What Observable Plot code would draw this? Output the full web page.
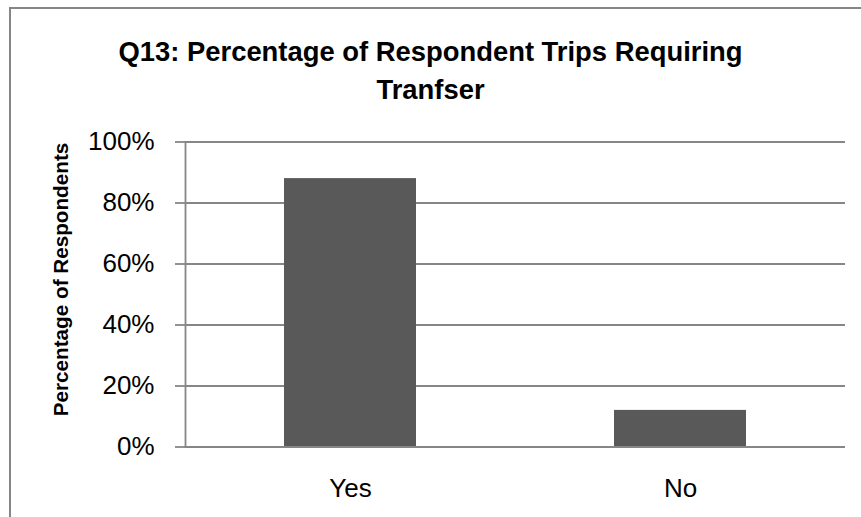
<!DOCTYPE html>
<html>
<head>
<meta charset="utf-8">
<script src="https://cdn.jsdelivr.net/npm/d3@7"></script>
<script src="https://cdn.jsdelivr.net/npm/@observablehq/plot@0.6"></script>
<style>
  html, body { margin: 0; padding: 0; background: #fff; }
  #wrap { position: relative; width: 861px; height: 517px; overflow: hidden; font-family: "Liberation Sans", Arial, sans-serif; }
  #border { position: absolute; left: 9px; top: 7px; width: 900px; height: 600px; border-left: 2px solid #868686; border-top: 2px solid #868686; box-sizing: border-box; }
  #title { position: absolute; left: 0; width: 861px; top: 33px; text-align: center; font-weight: bold; font-size: 27.4px; line-height: 38px; color: #000; }
  #chart { position: absolute; left: 0; top: 0; }
</style>
</head>
<body>
<div id="wrap">
  <div id="border"></div>
  <div id="chart"></div>
  <div id="title">Q13: Percentage of Respondent Trips Requiring<br>Tranfser</div>
</div>
<script>
const categories = ["Yes", "No"];
const values = [0.88, 0.12];
const yTicks = [0, 0.2, 0.4, 0.6, 0.8, 1.0];
const yTitle = "Percentage of Respondents";

const data = categories.map((c, i) => ({category: c, value: values[i]}));
const pct = d => Math.round(d * 100) + "%";

const chart = Plot.plot({
  width: 861,
  height: 517,
  marginTop: 141.5,
  marginBottom: 70.5,
  marginLeft: 185,
  marginRight: 16,
  style: {fontFamily: "'Liberation Sans', Arial, sans-serif", fontSize: "26px", color: "#000", background: "transparent"},
  x: {domain: categories, padding: 0, label: null},
  y: {domain: [0, 1], label: null},
  marks: [
    Plot.gridY(yTicks, {stroke: "#868686", strokeOpacity: 1, strokeWidth: 1.8}),
    Plot.barY(data, {x: "category", y: "value", fill: "#595959", insetLeft: 99, insetRight: 99}),
    Plot.ruleY([0], {stroke: "#868686", strokeWidth: 1.8}),
    Plot.frame({anchor: "left", stroke: "#868686", strokeWidth: 1.8}),
    Plot.axisY(yTicks, {tickSize: 10, tickPadding: 21, stroke: "#868686", strokeWidth: 1.8, tickFormat: pct, fontSize: 26, label: null}),
    Plot.axisX(categories, {tickSize: 0, tickPadding: 32, fontSize: 26, label: null}),
    Plot.text([yTitle], {frameAnchor: "left", textAnchor: "middle", dx: -124, dy: -15, rotate: -90, fontWeight: "bold", fontSize: 20.7, fill: "#000"})
  ]
});
document.getElementById("chart").appendChild(chart);
</script>
</body>
</html>
